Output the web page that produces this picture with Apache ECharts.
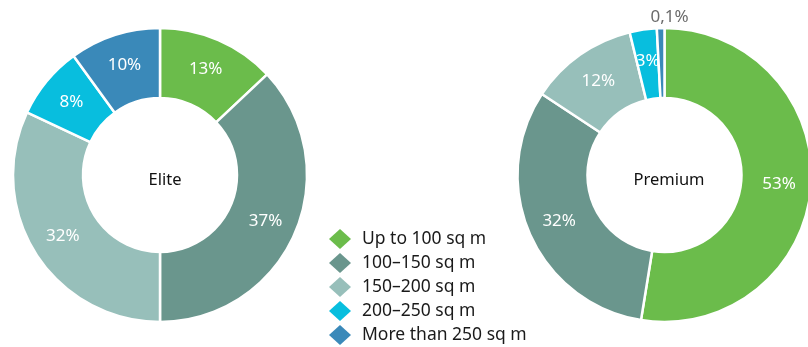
<!DOCTYPE html>
<html><head><meta charset="utf-8">
<script src="https://cdn.jsdelivr.net/npm/echarts@6/dist/echarts.min.js"></script>
<style>html,body{margin:0;padding:0;background:#fff}#c{width:808px;height:347px}</style>
</head><body><div id="c"></div>
<script>
const categories = ['Up to 100 sq m', '100–150 sq m', '150–200 sq m', '200–250 sq m', 'More than 250 sq m'];
const eliteValues = [13, 37, 32, 8, 10];
const premiumValues = [53, 32, 12, 3, 0.1];
const colors = ['#6BBC4B', '#6A968D', '#97BFBA', '#08BEDE', '#3A89B9'];
const FONT = '"Noto Sans", sans-serif';

function fmt(v) { return String(v).replace('.', ',') + '%'; }

function makeSeries(name, values, center) {
  return {
    type: 'pie', name: name, center: center, radius: [77, 147],
    startAngle: 90, clockwise: true, minAngle: 3, avoidLabelOverlap: false,
    itemStyle: { borderColor: '#fff', borderWidth: 2.5 },
    label: { show: true, position: 'inside', color: '#fff', fontSize: 17, fontFamily: FONT,
      formatter: p => fmt(p.value) },
    labelLine: { show: false },
    emphasis: { disabled: true },
    data: values.map((v, i) => {
      const d = { name: categories[i], value: v, itemStyle: { color: colors[i] } };
      if (v < 1) {
        d.label = { position: 'outside', color: '#6b6b6b', fontSize: 17 };
        d.labelLine = { show: false, length: 0, length2: 0 };
      }
      return d;
    })
  };
}

const chart = echarts.init(document.getElementById('c'), null, { renderer: 'canvas' });
chart.setOption({
  animation: false,
  legend: {
    orient: 'vertical', left: 329, top: 229, height: 200, padding: 0,
    itemWidth: 22, itemHeight: 20, itemGap: 4,
    icon: 'diamond', data: categories,
    itemStyle: { borderWidth: 0 },
    textStyle: { fontSize: 17.5, color: '#1a1a1a', fontFamily: FONT, padding: [0, 0, 0, 6] }
  },
  title: [
    { text: 'Elite', left: 160, top: 167, textAlign: 'center',
      textStyle: { fontSize: 16.5, fontWeight: 'normal', color: '#111', fontFamily: FONT } },
    { text: 'Premium', left: 664, top: 167, textAlign: 'center',
      textStyle: { fontSize: 16.5, fontWeight: 'normal', color: '#111', fontFamily: FONT } }
  ],
  series: [
    makeSeries('Elite', eliteValues, [160, 175]),
    Object.assign(makeSeries('Premium', premiumValues, [664.5, 175]), {
      labelLayout: function (p) {
        if (p.dataIndex === 4) {
          return { x: p.labelRect.x + p.labelRect.width / 2 + 33, y: 17, align: 'center', verticalAlign: 'middle' };
        }
      }
    })
  ]
});
</script></body></html>
